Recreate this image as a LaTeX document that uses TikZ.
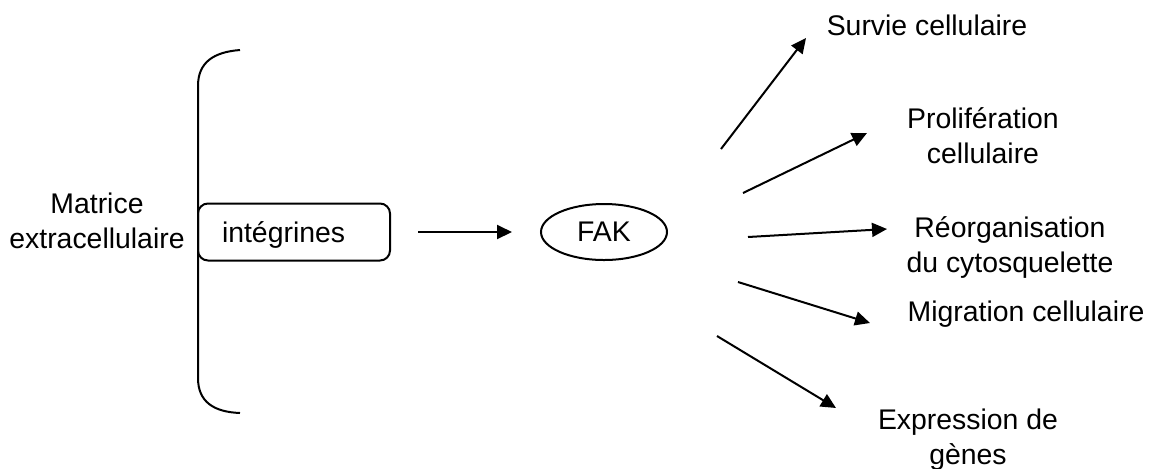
\documentclass[tikz,border=0pt]{standalone}
\usepackage{fontspec}
\setmainfont{Liberation Sans}
\usepackage{tikz}
\usetikzlibrary{shapes,arrows.meta}
\newcommand{\fadtextnode}[3] {\node at (#1) (#2) [align=center, inner sep=0pt] {#3};}
\newcommand{\fadsignal}[3] {\coordinate (#3s) at (#1); \coordinate (#3e) at (#2); \draw [-{Triangle[length=7.5pt, width=7pt]}] (#3s) -- (#3e);}

\begin{document}
\begin{tikzpicture}[x=0.5pt, y=-0.5pt, line width=1pt, font=\fontsize{14.2}{17.5}\selectfont]
\useasboundingbox (0,0) rectangle (1153,468);

\fadtextnode {97,221} {matrice} {Matrice\\extracellulaire};

% accolade
\draw (240,50) .. controls (214,52) and (198,62) .. (198,86) -- (198,378) .. controls (198,402) and (214,412) .. (240,413);

\node at (294,232) (integrines) [draw, rounded corners=5pt, minimum height=28.5pt, inner xsep=12pt, text width=72pt, text height=13pt, text depth=3pt, align=left] {int\'egrines};
\node at (604,232) (fak) [ellipse, draw, minimum width=63pt, minimum height=28pt, inner sep=0pt] {FAK};
\draw [-{Triangle[length=7.5pt, width=7pt]}, shorten <=13.5pt, shorten >=14pt] (integrines) -- (fak);

\fadtextnode {927,25} {survie} {Survie cellulaire};
\fadtextnode {983,136} {proliferation} {Prolif\'eration\\cellulaire};
\fadtextnode {1010,247} {reorganisation} {R\'eorganisation\\du cytosquelette};
\fadtextnode {1026,314} {migration} {Migration cellulaire};
\fadtextnode {968,440} {expression} {Expression de\\g\`enes};

\fadsignal {721,149} {806,38} {sv};
\fadsignal {743,193} {867,133} {pr};
\fadsignal {748,237} {887,229} {re};
\fadsignal {738,282} {870,323} {mi};
\fadsignal {717,336} {836,408} {ex};

%\node at (600,400) {};
\end{tikzpicture}
\end{document}
